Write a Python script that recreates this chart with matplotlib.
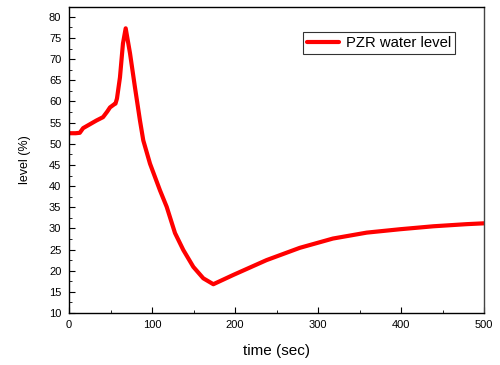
import matplotlib
matplotlib.use("Agg")
import matplotlib.pyplot as plt
from matplotlib.ticker import MultipleLocator

plt.rcParams['font.family'] = ['Liberation Sans', 'DejaVu Sans']

time_sec = [0, 8, 13, 17, 25, 33, 41, 46, 49.4, 54.2, 56, 57.8, 61.4, 65, 68.3,
            73.5, 79.5, 85.5, 89.5, 97.6, 109.6, 117.7, 127.7, 137.7, 149.8,
            161.8, 173.9, 198, 238, 278, 318, 358.7, 398.8, 439, 479, 500]
level_pct = [52.5, 52.5, 52.6, 53.7, 54.6, 55.5, 56.3, 57.6, 58.6, 59.3, 59.5, 60.7,
             65.7, 73.7, 77.3, 71.4, 63.3, 55.5, 50.8, 45.3, 39.0, 35.1, 28.9,
             24.9, 20.9, 18.2, 16.8, 19.0, 22.5, 25.4, 27.6, 29.0, 29.8, 30.5,
             31.0, 31.2]

fig = plt.figure(figsize=(5, 3.65), dpi=100)
ax = fig.add_axes([0.138, 0.1425, 0.830, 0.839])
ax.plot(time_sec, level_pct, color='#ff0000', lw=3.0, label='PZR water level',
        solid_joinstyle='round', solid_capstyle='round')
ax.set_xlim(0, 500)
ax.set_ylim(10, 82.4)
ax.xaxis.set_major_locator(MultipleLocator(100))
ax.xaxis.set_minor_locator(MultipleLocator(50))
ax.yaxis.set_major_locator(MultipleLocator(5))
ax.yaxis.set_minor_locator(MultipleLocator(2.5))
ax.tick_params(which='both', direction='in', top=False, right=False, labelsize=8)
ax.tick_params(axis='y', which='major', length=4, pad=5.5)
ax.tick_params(axis='x', which='major', length=4, pad=5)
ax.tick_params(which='minor', length=2)
for s in ax.spines.values():
    s.set_linewidth(1.0)
ax.spines['right'].set_color('#444444')
ax.set_xlabel('time (sec)', fontsize=11, labelpad=10)
ax.set_ylabel('level (%)', fontsize=9, labelpad=13)
leg = ax.legend(loc='upper right', bbox_to_anchor=(0.91, 0.912), bbox_transform=fig.transFigure,
                fontsize=10.7, frameon=True, fancybox=False, handlelength=2.2,
                borderpad=0.25, handletextpad=0.45, borderaxespad=0)
leg.get_frame().set_edgecolor('black')
leg.get_frame().set_linewidth(0.8)
fig.savefig('out.png', dpi=100)
